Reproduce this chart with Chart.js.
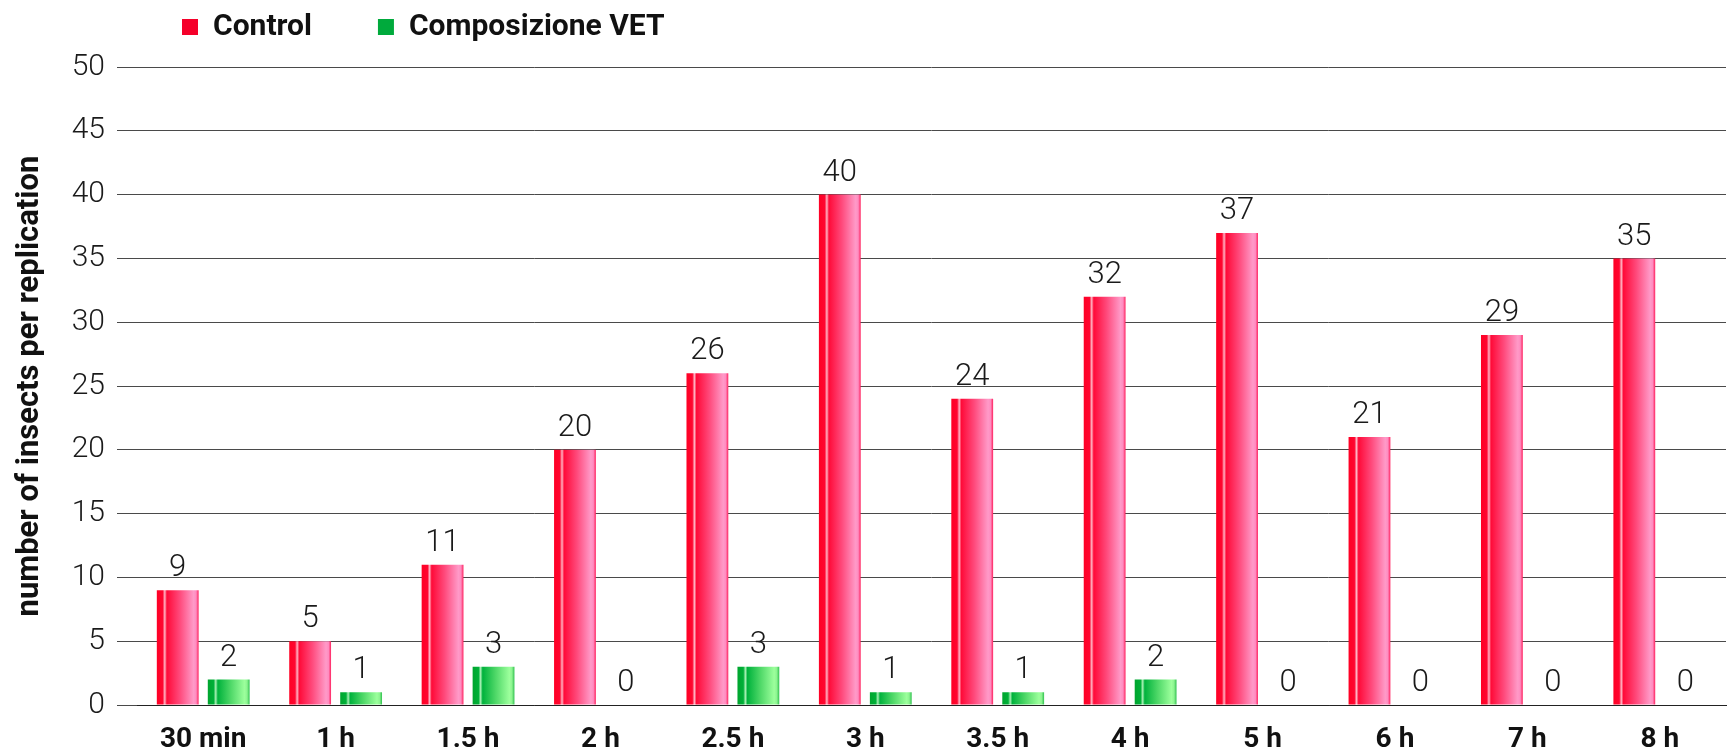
<!DOCTYPE html>
<html>
<head>
<meta charset="utf-8">
<script src="https://cdn.jsdelivr.net/npm/chart.js@4.4.1/dist/chart.umd.min.js"></script>
<style>
  html, body { margin: 0; padding: 0; background: #fff; }
  #wrap { width: 1728px; height: 752px; }
</style>
</head>
<body>
<div id="wrap"><canvas id="insectChart" width="1728" height="752"></canvas></div>
<script>
// Chart data
const timeLabels = ['30 min', '1 h', '1.5 h', '2 h', '2.5 h', '3 h', '3.5 h', '4 h', '5 h', '6 h', '7 h', '8 h'];
const controlValues = [9, 5, 11, 20, 26, 40, 24, 32, 37, 21, 29, 35];
const vetValues = [2, 1, 3, 0, 3, 1, 1, 2, 0, 0, 0, 0];
const seriesNames = ['Control', 'Composizione VET'];
const legendColors = ['#f5002a', '#00aa3c'];
const yMax = 50;
const yStep = 5;

const CAT_PCT = 0.77;
const BAR_PCT = 0.82;

const redStops = [[0, '#ff0024'], [0.14, '#ff0630'], [0.19, '#ffb4c4'], [0.24, '#ff0a38'], [0.55, '#ff4a7c'], [0.88, '#ff9ac8'], [0.94, '#ff8cc0'], [1, '#ff1f5c']];
const greenStops = [[0, '#00a52e'], [0.14, '#00b038'], [0.19, '#a8f0b4'], [0.24, '#00b23c'], [0.55, '#4fd868'], [0.88, '#9cff9c'], [0.94, '#8cf490'], [1, '#2fc04e']];

// horizontal gradient across each bar, placed from the x scale
function barGradient(stops, solid) {
    return (ctx) => {
        if (ctx.type !== 'data') return solid;
        const chart = ctx.chart;
        const xs = chart.scales.x;
        if (!xs || !chart.chartArea) return solid;
        const cat = xs.width / timeLabels.length;
        const slot = cat * CAT_PCT / 2;
        const w = slot * BAR_PCT;
        const cx = xs.getPixelForValue(ctx.dataIndex) + (ctx.datasetIndex === 0 ? -slot / 2 : slot / 2);
        const g = chart.ctx.createLinearGradient(cx - w / 2, 0, cx + w / 2, 0);
        stops.forEach(([o, c]) => g.addColorStop(o, c));
        return g;
    };
}

// value labels above bars
const valueLabels = {
    id: 'valueLabels',
    afterDatasetsDraw(chart) {
        const { ctx } = chart;
        ctx.save();
        ctx.font = '300 31px Roboto';
        ctx.fillStyle = '#1a1a1a';
        ctx.textAlign = 'center';
        ctx.textBaseline = 'bottom';
        chart.data.datasets.forEach((ds, di) => {
            chart.getDatasetMeta(di).data.forEach((bar, i) => {
                ctx.fillText(ds.data[i], bar.x, bar.y - 6);
            });
        });
        ctx.restore();
    }
};

// move the legend to its spot above the plot
const legendPlace = {
    id: 'legendPlace',
    afterUpdate(chart) {
        const lg = chart.legend;
        if (!lg) return;
        const dx = 116 - lg.left;
        lg.left += dx;
        lg.right += dx;
        lg.top = -54;
        lg.bottom = 50;
    }
};

new Chart(document.getElementById('insectChart'), {
    type: 'bar',
    data: {
        labels: timeLabels,
        datasets: [
            {
                label: seriesNames[0],
                data: controlValues,
                backgroundColor: barGradient(redStops, legendColors[0]),
                categoryPercentage: CAT_PCT,
                barPercentage: BAR_PCT
            },
            {
                label: seriesNames[1],
                data: vetValues,
                backgroundColor: barGradient(greenStops, legendColors[1]),
                categoryPercentage: CAT_PCT,
                barPercentage: BAR_PCT
            }
        ]
    },
    options: {
        responsive: false,
        animation: false,
        devicePixelRatio: 1,
        layout: { padding: { top: 21, right: 2, left: 0, bottom: 0 } },
        plugins: {
            legend: {
                position: 'top',
                align: 'start',
                maxHeight: 46,
                labels: {
                    boxWidth: 16,
                    boxHeight: 16,
                    padding: 66,
                    color: '#111',
                    font: { family: 'Roboto', size: 30, weight: 'bold' },
                    generateLabels(chart) {
                        const items = Chart.defaults.plugins.legend.labels.generateLabels(chart);
                        items.forEach((it, i) => {
                            it.fillStyle = legendColors[i];
                            it.strokeStyle = legendColors[i];
                            it.lineWidth = 0;
                        });
                        return items;
                    }
                }
            },
            tooltip: { enabled: false }
        },
        scales: {
            x: {
                grid: { display: false },
                border: { display: true, color: '#222', width: 1 },
                ticks: {
                    color: '#111',
                    padding: 10,
                    font: { family: 'Roboto', size: 28, weight: 'bold' }
                },
                afterFit(scale) { scale.height = 47; }
            },
            y: {
                min: 0,
                max: yMax,
                border: { display: false },
                grid: { color: '#4a4a4a', lineWidth: 1, tickLength: 20, drawTicks: true },
                ticks: {
                    stepSize: yStep,
                    padding: 12,
                    color: '#1a1a1a',
                    font: { family: 'Roboto', size: 30, weight: '300' }
                },
                title: {
                    display: true,
                    text: 'number of insects per replication',
                    color: '#111',
                    padding: { top: 12, bottom: 0 },
                    font: { family: 'Roboto', size: 31, weight: 'bold' }
                },
                afterFit(scale) { scale.width = 137; }
            }
        }
    },
    plugins: [valueLabels, legendPlace]
});
</script>
</body>
</html>
